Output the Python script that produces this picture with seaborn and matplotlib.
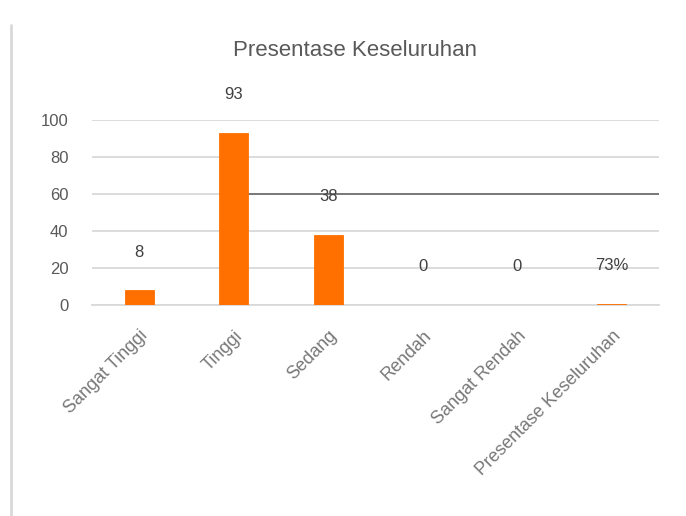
import matplotlib
matplotlib.use("Agg")
import matplotlib.pyplot as plt
from matplotlib.lines import Line2D
import seaborn as sns

# data
kategori = ["Sangat Tinggi", "Tinggi", "Sedang", "Rendah", "Sangat Rendah",
            "Presentase Keseluruhan"]
nilai = [8, 93, 38, 0, 0, 0.73]
label_nilai = ["8", "93", "38", "0", "0", "73%"]
garis_ref = 60           # dark horizontal line
garis_mulai = "Tinggi"   # line starts after this bar
y_ticks = [0, 20, 40, 60, 80, 100]

sns.set_theme(style="white")
plt.rcParams["font.family"] = ["Liberation Sans", "DejaVu Sans"]

ORANYE = "#FF7000"
ABU_TEKS = "#595959"
ABU_GRID = "#D9D9D9"
LEBAR = 0.31

fig = plt.figure(figsize=(6.86, 5.16), dpi=100)
ax = fig.add_axes([92 / 686, 1 - 305 / 516, 567 / 686, 185 / 516])

sns.barplot(x=kategori, y=nilai, color=ORANYE, saturation=1, width=LEBAR,
            edgecolor=ORANYE, linewidth=0.6, ax=ax, zorder=3)

ax.set_xlim(-0.5, len(kategori) - 0.5)
ax.set_ylim(0, 100)
ax.set_yticks(y_ticks)
ax.yaxis.grid(True, color=ABU_GRID, linewidth=1.3, zorder=0)
ax.xaxis.grid(False)
for s in ["top", "right", "left"]:
    ax.spines[s].set_visible(False)
ax.spines["bottom"].set_color(ABU_GRID)
ax.spines["bottom"].set_linewidth(1.3)
ax.spines["bottom"].set_zorder(1)
ax.tick_params(axis="y", length=0, pad=17, labelsize=12, labelcolor=ABU_TEKS)
ax.tick_params(axis="x", length=0, pad=16, labelsize=13, labelcolor="#787878")
plt.setp(ax.get_xticklabels(), rotation=45, ha="right", rotation_mode="anchor")
ax.set_xlabel("")
ax.set_ylabel("")

# dark reference line
i0 = kategori.index(garis_mulai)
ax.hlines(garis_ref, i0 + LEBAR / 2, len(kategori) - 0.5, color="#707070",
          linewidth=1.3, zorder=2)

# data labels
ax.bar_label(ax.containers[0], labels=label_nilai, padding=22,
             fontsize=12, color="#404040")

fig.text(355 / 686, 1 - 50 / 516, "Presentase Keseluruhan", ha="center",
         va="center", fontsize=16, color=ABU_TEKS)

# left border of chart area
fig.add_artist(Line2D([11 / 686, 11 / 686], [0, 1 - 25 / 516],
                      transform=fig.transFigure, color=ABU_GRID, linewidth=2))

fig.savefig("out.png", dpi=100)
